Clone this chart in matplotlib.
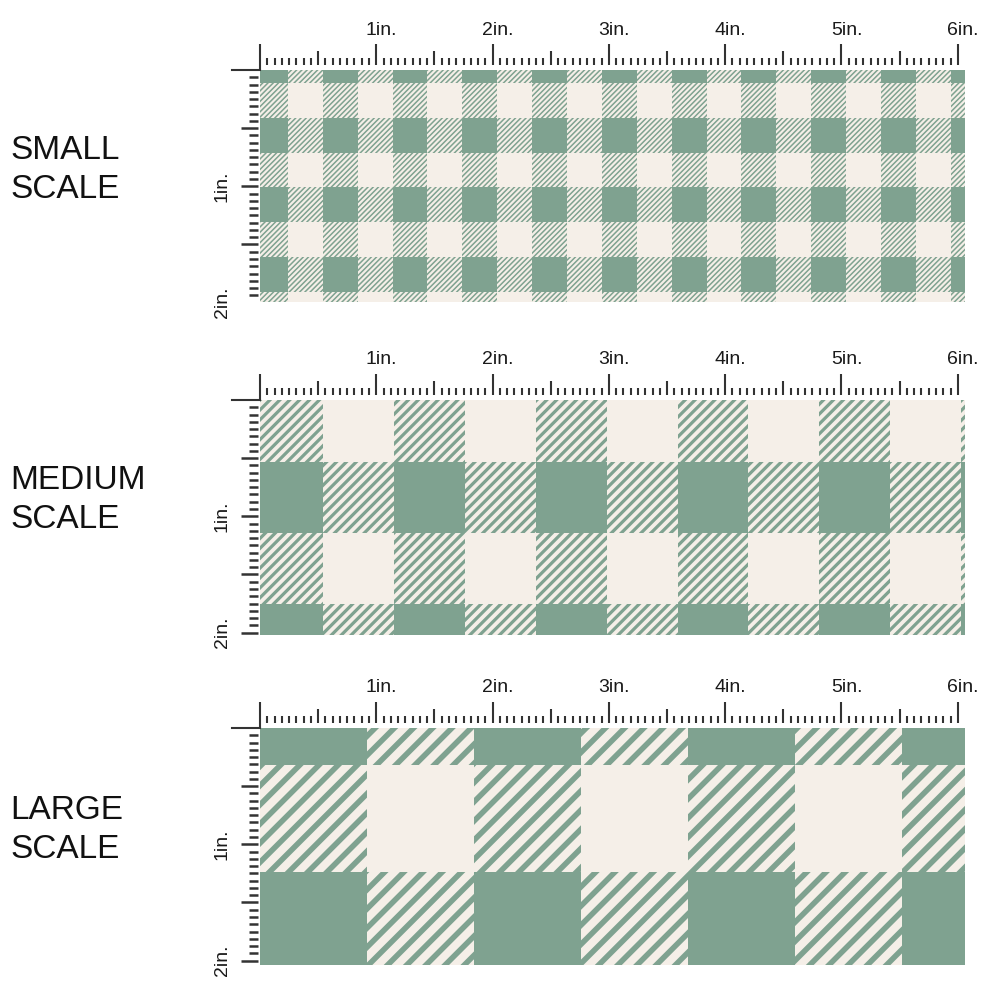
import numpy as np
import matplotlib.pyplot as plt
from matplotlib.patches import Rectangle
from matplotlib.collections import LineCollection, PatchCollection
from matplotlib.path import Path

plt.rcParams["font.family"] = ["Liberation Sans", "DejaVu Sans"]

GREEN = "#7fa290"
CREAM = "#f5efe8"
INK = "#333333"

# one entry per swatch: small, medium, large
scale_names = ["SMALL\nSCALE", "MEDIUM\nSCALE", "LARGE\nSCALE"]
check_size = [0.30, 0.61, 0.92]        # width of one check, inches
col_offset = [-0.06, -0.07, 0.0]       # where the first green column starts
row_offset = [-0.19, -0.69, -0.60]     # where the first green row starts
stripe_pitch = [0.045, 0.085, 0.165]   # horizontal stripe pitch, inches
stripe_width = [1.1, 2.3, 4.0]         # stripe thickness, points

top_labels = ["1in.", "2in.", "3in.", "4in.", "5in.", "6in."]
side_labels = ["1in.", "2in."]

# layout (pixels of the 1000x1000 canvas)
PPI = 116.3
panel_left, panel_right = 260, 965
panel_top = [70, 400, 728]
panel_bottom = [302, 635, 965]
name_center = [170, 500, 830]


def draw_gingham(ax, c, ox, oy, pitch, lw, W, H):
    ax.add_patch(Rectangle((0, 0), W, H, facecolor=CREAM, lw=0, zorder=0))
    solid, hatch = [], []
    for i, x0 in enumerate(np.arange(ox, W, c)):
        for j, y0 in enumerate(np.arange(oy, H, c)):
            x1, y1 = max(x0, 0), max(y0, 0)
            x2, y2 = min(x0 + c, W), min(y0 + c, H)
            if x2 <= x1 or y2 <= y1:
                continue
            rect = (x1, y1, x2 - x1, y2 - y1)
            gx, gy = i % 2 == 0, j % 2 == 0
            if gx and gy:
                solid.append(rect)
            elif gx or gy:
                hatch.append(rect)

    ax.add_collection(PatchCollection(
        [Rectangle((x, y), w, h) for x, y, w, h in solid],
        facecolor=GREEN, edgecolor="none", zorder=2))

    # diagonal stripes, clipped to the half-tone cells
    paths = []
    for x, y, w, h in hatch:
        paths.append(Path([(x, y), (x + w, y), (x + w, y + h), (x, y + h), (x, y)],
                          [Path.MOVETO, Path.LINETO, Path.LINETO, Path.LINETO, Path.CLOSEPOLY]))
    clip = Path.make_compound_path(*paths)
    segs = [[(b - H - 1, H + 1), (b + 1, -1)] for b in np.arange(0, W + H + 2, pitch)]
    lc = LineCollection(segs, colors=GREEN, linewidths=lw, capstyle="butt", zorder=1)
    ax.add_collection(lc)
    lc.set_clip_path(clip, ax.transData)


def draw_rulers(ax, W, H):
    px = 1 / PPI
    # top ruler
    base = -5 * px
    for k in range(0, 6 * 16 + 1):
        t = k / 16
        if k % 16 == 0:
            L = 21
        elif k % 8 == 0:
            L = 14
        else:
            L = 7
        y_end = 0 if k == 0 else base
        ax.plot([t, t], [y_end, base - L * px], color=INK, lw=1.5,
                solid_capstyle="butt", clip_on=False)
    for k, lab in enumerate(top_labels, start=1):
        ax.text(k + 5 * px, -40 * px, lab, ha="center", va="center",
                fontsize=14, color="#1a1a1a", clip_on=False)

    # corner
    ax.plot([-28 * px, 0], [0, 0], color=INK, lw=1.5, clip_on=False)

    # side ruler
    right = -2 * px
    for k in range(1, int(H * 16) + 1):
        t = k / 16
        L = 17 if k % 8 == 0 else 9
        ax.plot([right - L * px, right], [t, t], color=INK, lw=1.8,
                solid_capstyle="butt", clip_on=False)
    for k, lab in enumerate(side_labels, start=1):
        ax.text(-38 * px, k, lab, ha="center", va="center", rotation=90,
                fontsize=14, color="#1a1a1a", clip_on=False)


fig = plt.figure(figsize=(10, 10), dpi=100)

for n in range(3):
    W = (panel_right - panel_left) / PPI
    H = (panel_bottom[n] - panel_top[n]) / PPI
    ax = fig.add_axes([panel_left / 1000, 1 - panel_bottom[n] / 1000,
                       (panel_right - panel_left) / 1000,
                       (panel_bottom[n] - panel_top[n]) / 1000])
    ax.set_xlim(0, W)
    ax.set_ylim(H, 0)
    ax.axis("off")
    draw_gingham(ax, check_size[n], col_offset[n], row_offset[n],
                 stripe_pitch[n], stripe_width[n], W, H)
    draw_rulers(ax, W, H)

    fig.text(10 / 1000, 1 - name_center[n] / 1000, scale_names[n],
             ha="left", va="center", fontsize=24, linespacing=1.3, color="#111111")

fig.savefig("out.png", dpi=100)
